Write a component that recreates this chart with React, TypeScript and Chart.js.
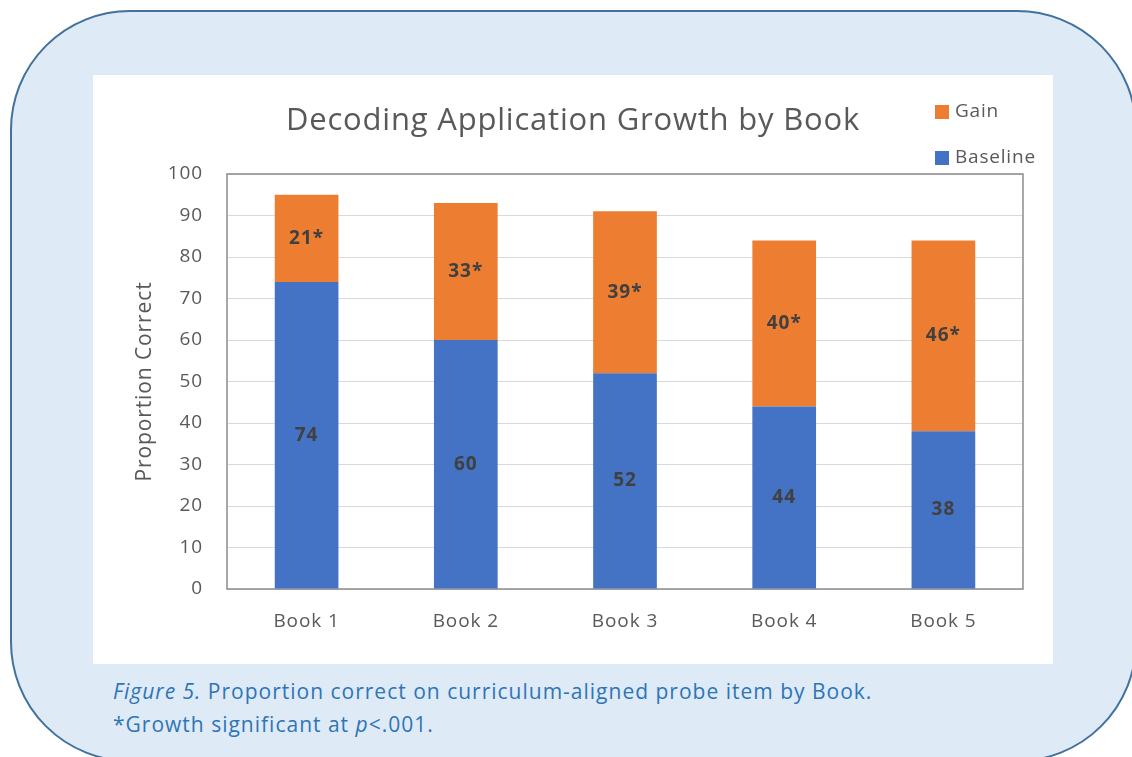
import React, { useEffect, useRef } from "react";
import { Chart, registerables } from "chart.js";
Chart.register(...registerables);

const categories = ["Book 1", "Book 2", "Book 3", "Book 4", "Book 5"];
const baseline = [74, 60, 52, 44, 38];
const gain = [21, 33, 39, 40, 46];
const gainLabels = ["21*", "33*", "39*", "40*", "46*"];
const baselineLabels = ["74", "60", "52", "44", "38"];
const legendOrder = ["Gain", "Baseline"];
const titleText = "Decoding Application Growth by Book";
const yAxisTitle = "Proportion Correct";

const FONT = "'Open Sans', sans-serif";
const BLUE = "#4472C4";
const ORANGE = "#ED7D31";
const TEXT = "#595959";

const spacing = {
  id: "spacing",
  beforeDraw(chart: any) {
    chart.ctx.letterSpacing = "0.9px";
  },
};

const plotBorder = {
  id: "plotBorder",
  beforeDatasetsDraw(chart: any) {
    const { ctx, chartArea } = chart;
    ctx.save();
    ctx.strokeStyle = "#8C8C8C";
    ctx.lineWidth = 1.5;
    ctx.strokeRect(chartArea.left, chartArea.top, chartArea.right - chartArea.left, chartArea.bottom - chartArea.top);
    ctx.restore();
  },
};

const barLabels = {
  id: "barLabels",
  afterDatasetsDraw(chart: any) {
    const { ctx } = chart;
    ctx.save();
    ctx.letterSpacing = "1px";
    ctx.font = `bold 19px ${FONT}`;
    ctx.fillStyle = "#404040";
    ctx.textAlign = "center";
    ctx.textBaseline = "middle";
    chart.data.datasets.forEach((ds: any, i: number) => {
      const meta = chart.getDatasetMeta(i);
      const labels = i === 0 ? baselineLabels : gainLabels;
      meta.data.forEach((el: any, j: number) => {
        ctx.fillText(labels[j], el.x, (el.y + el.base) / 2);
      });
    });
    ctx.restore();
  },
};

const customTitleLegend = {
  id: "customTitleLegend",
  afterDraw(chart: any) {
    const { ctx } = chart;
    ctx.save();
    ctx.letterSpacing = "0.8px";
    ctx.font = `31px ${FONT}`;
    ctx.fillStyle = TEXT;
    ctx.textAlign = "center";
    ctx.textBaseline = "middle";
    ctx.fillText(titleText, chart.width / 2, 46);

    ctx.font = `19px ${FONT}`;
    ctx.textAlign = "left";
    const rows = [
      { label: legendOrder[0], color: ORANGE, y: 37 },
      { label: legendOrder[1], color: BLUE, y: 83 },
    ];
    rows.forEach((r) => {
      ctx.fillStyle = r.color;
      ctx.fillRect(842, r.y - 7, 14, 14);
      ctx.fillStyle = TEXT;
      ctx.fillText(r.label, 862, r.y);
    });
    ctx.restore();
  },
};

function BarChart() {
  const ref = useRef<HTMLCanvasElement>(null);
  useEffect(() => {
    if (!ref.current) return;
    const chart = new Chart(ref.current, {
      type: "bar",
      data: {
        labels: categories,
        datasets: [
          { label: "Baseline", data: baseline, backgroundColor: BLUE, categoryPercentage: 1, barPercentage: 0.4 },
          { label: "Gain", data: gain, backgroundColor: ORANGE, categoryPercentage: 1, barPercentage: 0.4 },
        ],
      },
      options: {
        responsive: false,
        animation: false,
        devicePixelRatio: 1,
        layout: { padding: { left: 0, right: 30, top: 0, bottom: 0 } },
        plugins: {
          legend: { display: false },
          tooltip: { enabled: false },
          title: {
            display: true,
            text: titleText,
            color: "rgba(0,0,0,0)",
            font: { family: FONT, size: 30, weight: "normal" },
            padding: { top: 27, bottom: 36 },
          },
        },
        scales: {
          x: {
            stacked: true,
            grid: { display: false, drawTicks: false },
            border: { display: false },
            ticks: { color: TEXT, font: { family: FONT, size: 19 }, padding: 21 },
            afterFit(scale: any) {
              scale.height = 75;
            },
          },
          y: {
            stacked: true,
            min: 0,
            max: 100,
            grid: { color: "#D9D9D9", lineWidth: 1, drawTicks: false },
            border: { display: false },
            ticks: { stepSize: 10, color: TEXT, font: { family: FONT, size: 19 }, padding: 24 },
            title: {
              display: true,
              text: yAxisTitle,
              color: TEXT,
              font: { family: FONT, size: 21, weight: "normal" },
              padding: { top: 39, bottom: 0 },
            },
            afterFit(scale: any) {
              scale.width = 134;
            },
          },
        },
      },
      plugins: [spacing, plotBorder, barLabels, customTitleLegend],
    });
    return () => chart.destroy();
  }, []);
  return <canvas ref={ref} width={960} height={589} style={{ display: "block", width: 960, height: 589 }} />;
}

export default function App() {
  return (
    <div style={{ position: "absolute", left: 0, top: 0, width: 1132, height: 757, overflow: "hidden", background: "#FFFFFF", fontFamily: FONT }}>
      <div
        style={{
          position: "absolute",
          left: 10,
          top: 10,
          width: 1123,
          height: 748,
          border: "2px solid #41719C",
          borderRadius: 120,
          background: "#DEEAF6",
        }}
      />
      <div style={{ position: "absolute", left: 93, top: 75, width: 960, height: 589, background: "#FFFFFF" }}>
        <BarChart />
      </div>
      <div style={{ position: "absolute", left: 113, top: 675, color: "#2E75B6", fontSize: 21, letterSpacing: "1px", lineHeight: "33px", whiteSpace: "nowrap" }}>
        <div>
          <i>Figure 5.</i> Proportion correct on curriculum-aligned probe item by Book.
        </div>
        <div>
          *Growth significant at <i>p</i>&lt;.001.
        </div>
      </div>
    </div>
  );
}
